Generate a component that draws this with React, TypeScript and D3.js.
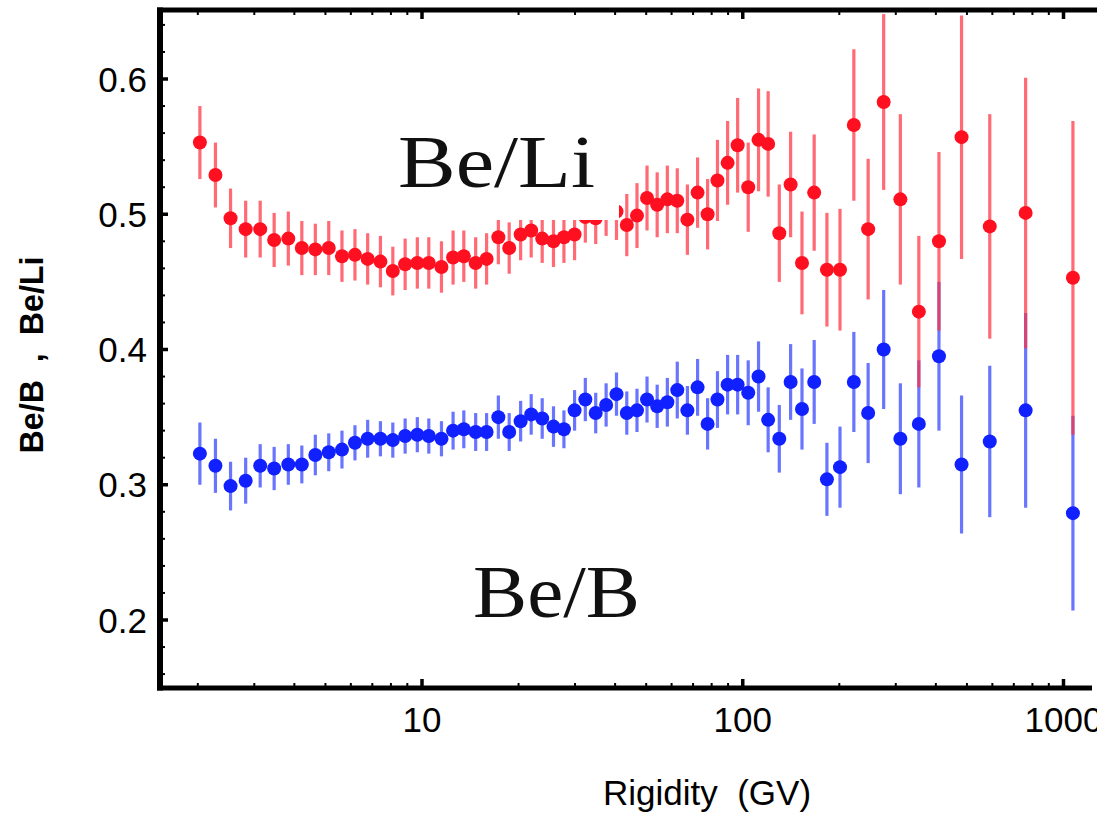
import React from "react";
import * as d3 from "d3";

const rigidity = [2.03, 2.27, 2.53, 2.82, 3.13, 3.46, 3.83, 4.22, 4.65, 5.12, 5.63, 6.18, 6.77, 7.42, 8.11, 8.86, 9.67, 10.5, 11.5, 12.5, 13.5, 14.7, 15.9, 17.3, 18.7, 20.3, 21.9, 23.7, 25.7, 27.7, 29.9, 32.3, 34.8, 37.5, 40.4, 43.5, 46.8, 50.3, 54.1, 58.2, 62.5, 67.2, 72.3, 77.7, 83.4, 89.7, 96.4, 104, 112, 120, 130, 141, 153, 167, 183, 201, 222, 246, 275, 310, 354, 409, 481, 589, 762, 1070];

const beLi = [0.553, 0.529, 0.497, 0.489, 0.489, 0.481, 0.482, 0.475, 0.474, 0.475, 0.469, 0.470, 0.467, 0.465, 0.458, 0.463, 0.464, 0.464, 0.461, 0.468, 0.469, 0.464, 0.467, 0.483, 0.475, 0.485, 0.488, 0.482, 0.480, 0.483, 0.485, 0.498, 0.497, 0.503, 0.502, 0.492, 0.499, 0.512, 0.507, 0.511, 0.510, 0.496, 0.516, 0.500, 0.525, 0.538, 0.551, 0.520, 0.555, 0.552, 0.486, 0.522, 0.464, 0.516, 0.459, 0.459, 0.566, 0.489, 0.583, 0.511, 0.428, 0.480, 0.557, 0.491, 0.501, 0.453];

const beLiErr = [0.027, 0.024, 0.022, 0.021, 0.021, 0.020, 0.020, 0.020, 0.019, 0.020, 0.019, 0.019, 0.019, 0.019, 0.018, 0.019, 0.019, 0.019, 0.019, 0.020, 0.019, 0.019, 0.019, 0.020, 0.019, 0.019, 0.020, 0.018, 0.019, 0.019, 0.019, 0.019, 0.019, 0.019, 0.021, 0.023, 0.024, 0.024, 0.024, 0.025, 0.024, 0.026, 0.026, 0.026, 0.030, 0.031, 0.035, 0.033, 0.038, 0.039, 0.036, 0.039, 0.038, 0.043, 0.042, 0.045, 0.056, 0.052, 0.065, 0.063, 0.056, 0.066, 0.090, 0.083, 0.100, 0.116];

const beB = [0.323, 0.314, 0.299, 0.303, 0.314, 0.312, 0.315, 0.315, 0.322, 0.324, 0.326, 0.331, 0.334, 0.334, 0.333, 0.336, 0.337, 0.336, 0.334, 0.340, 0.341, 0.339, 0.339, 0.350, 0.339, 0.347, 0.352, 0.349, 0.343, 0.341, 0.355, 0.363, 0.353, 0.359, 0.367, 0.353, 0.355, 0.363, 0.358, 0.361, 0.370, 0.355, 0.372, 0.345, 0.363, 0.374, 0.374, 0.368, 0.380, 0.348, 0.334, 0.376, 0.356, 0.376, 0.304, 0.313, 0.376, 0.353, 0.400, 0.334, 0.345, 0.395, 0.315, 0.332, 0.355, 0.279];

const beBErr = [0.023, 0.020, 0.018, 0.017, 0.016, 0.016, 0.015, 0.014, 0.015, 0.014, 0.014, 0.013, 0.014, 0.013, 0.013, 0.013, 0.013, 0.013, 0.013, 0.014, 0.014, 0.014, 0.014, 0.016, 0.014, 0.015, 0.015, 0.015, 0.015, 0.014, 0.015, 0.016, 0.015, 0.016, 0.016, 0.016, 0.016, 0.017, 0.016, 0.018, 0.021, 0.018, 0.021, 0.019, 0.021, 0.022, 0.022, 0.024, 0.026, 0.024, 0.025, 0.028, 0.030, 0.031, 0.027, 0.030, 0.037, 0.037, 0.044, 0.041, 0.047, 0.055, 0.051, 0.056, 0.072, 0.072];

const xMajorTicks = [10, 100, 1000];
const xTickLabels = ["10", "100", "1000"];
const xMinorTicks = [2, 3, 4, 5, 6, 7, 8, 9, 20, 30, 40, 50, 60, 70, 80, 90, 200, 300, 400, 500, 600, 700, 800, 900];
const yMajorTicks = [0.2, 0.3, 0.4, 0.5, 0.6];
const yTickLabels = ["0.2", "0.3", "0.4", "0.5", "0.6"];
const yMinorTicks = [0.16, 0.18, 0.22, 0.24, 0.26, 0.28, 0.32, 0.34, 0.36, 0.38, 0.42, 0.44, 0.46, 0.48, 0.52, 0.54, 0.56, 0.58, 0.62, 0.64];

const W = 1097;
const H = 816;
const left = 160;
const top = 10;
const bottom = 688;
const rightTop = 1097;
const rightBottom = 1092;

export default function App() {
  const x = d3.scaleLog().domain([10, 1000]).range([422, 1063.5]);
  const y = d3.scaleLinear().domain([0.2, 0.6]).range([620, 79]);

  const red = "#ff1020";
  const redBar = "#ff3040";
  const blue = "#1020ff";
  const blueBar = "#3040ff";

  const series = [
    { vals: beB, errs: beBErr, dot: blue, bar: blueBar },
    { vals: beLi, errs: beLiErr, dot: red, bar: redBar },
  ];

  const sans = "'Liberation Sans', Arial, sans-serif";
  const serif = "'Liberation Serif', 'Times New Roman', serif";

  return (
    <svg width={W} height={H} style={{ position: "absolute", left: 0, top: 0, background: "#fff" }}>
      <defs>
        <clipPath id="plotclip">
          <rect x={left} y={top} width={W - left} height={bottom - top} />
        </clipPath>
      </defs>
      <rect x={0} y={0} width={W} height={H} fill="#fff" />

      <g clipPath="url(#plotclip)">
        {series.map((s, si) => (
          <g key={si}>
            {rigidity.map((r, i) => (
              <line
                key={"b" + i}
                x1={x(r)}
                x2={x(r)}
                y1={y(s.vals[i] - s.errs[i])}
                y2={y(s.vals[i] + s.errs[i])}
                stroke={s.bar}
                strokeWidth={3.2}
                strokeOpacity={0.72}
              />
            ))}
            {rigidity.map((r, i) => (
              <circle key={"d" + i} cx={x(r)} cy={y(s.vals[i])} r={7} fill={s.dot} />
            ))}
          </g>
        ))}
      </g>

      {/* white box behind Be/Li label */}
      <rect x={386} y={118} width={233} height={102} fill="#fff" />
      <text
        x={398}
        y={187}
        fontFamily={serif}
        fontSize={75}
        textLength={197}
        lengthAdjust="spacingAndGlyphs"
        fill="#111"
      >
        Be/Li
      </text>
      <text
        x={473}
        y={617}
        fontFamily={serif}
        fontSize={75}
        textLength={167}
        lengthAdjust="spacingAndGlyphs"
        fill="#111"
      >
        Be/B
      </text>

      {/* frame */}
      <line x1={left} x2={left} y1={top - 2.5} y2={bottom + 2.5} stroke="#000" strokeWidth={6} />
      <line x1={left - 3} x2={rightTop} y1={top} y2={top} stroke="#000" strokeWidth={5} />
      <line x1={left - 3} x2={rightBottom} y1={bottom} y2={bottom} stroke="#000" strokeWidth={5} />

      {/* x ticks bottom and top */}
      {xMajorTicks.map((t) => (
        <g key={"xM" + t}>
          <line x1={x(t)} x2={x(t)} y1={bottom} y2={bottom - 9} stroke="#000" strokeWidth={3.5} />
          <line x1={x(t)} x2={x(t)} y1={top} y2={top + 9} stroke="#000" strokeWidth={3.5} />
        </g>
      ))}
      {xMinorTicks.filter((t) => x(t) < rightBottom).map((t) => (
        <g key={"xm" + t}>
          <line x1={x(t)} x2={x(t)} y1={bottom} y2={bottom - 5} stroke="#000" strokeWidth={2} />
          <line x1={x(t)} x2={x(t)} y1={top} y2={top + 5} stroke="#000" strokeWidth={2} />
        </g>
      ))}
      {xMajorTicks.map((t, i) => (
        <text key={"xl" + t} x={x(t)} y={732} textAnchor="middle" fontFamily={sans} fontSize={35} fill="#000">
          {xTickLabels[i]}
        </text>
      ))}

      {/* y ticks */}
      {yMajorTicks.map((t) => (
        <line key={"yM" + t} x1={left} x2={left + 8} y1={y(t)} y2={y(t)} stroke="#000" strokeWidth={3.5} />
      ))}
      {yMinorTicks.map((t) => (
        <line key={"ym" + t} x1={left} x2={left + 5} y1={y(t)} y2={y(t)} stroke="#000" strokeWidth={2} />
      ))}
      {yMajorTicks.map((t, i) => (
        <text key={"yl" + t} x={147} y={y(t) + 12.5} textAnchor="end" fontFamily={sans} fontSize={35} fill="#000">
          {yTickLabels[i]}
        </text>
      ))}

      {/* axis titles */}
      <text
        x={707}
        y={805}
        textAnchor="middle"
        fontFamily={sans}
        fontSize={35}
        fill="#000"
        style={{ whiteSpace: "pre" }}
      >
        {"Rigidity  (GV)"}
      </text>
      <text
        transform="translate(42.5,355) rotate(-90)"
        textAnchor="middle"
        fontFamily={sans}
        fontWeight="bold"
        fontSize={33}
        textLength={197}
        lengthAdjust="spacingAndGlyphs"
        fill="#000"
        style={{ whiteSpace: "pre" }}
      >
        {"Be/B  ,  Be/Li"}
      </text>
    </svg>
  );
}
